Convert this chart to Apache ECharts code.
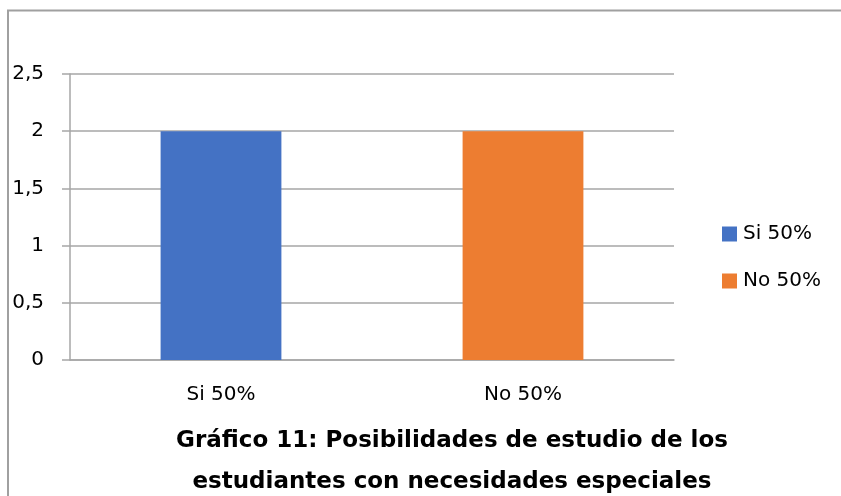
<!DOCTYPE html>
<html>
<head>
<meta charset="utf-8">
<script src="https://cdn.jsdelivr.net/npm/echarts@6/dist/echarts.min.js"></script>
<style>html,body{margin:0;padding:0;background:#fff;}#c{width:841px;height:496px;}</style>
</head>
<body>
<div id="c"></div>
<script>
var categories = ['Si 50%', 'No 50%'];
var seriesNames = ['Si 50%', 'No 50%'];
var siValues = [2, '-'];
var noValues = ['-', 2];
var yTicks = {min: 0, max: 2.5, interval: 0.5};
var titleText = 'Gráfico 11: Posibilidades de estudio de los\nestudiantes con necesidades especiales';

var FONT = 'DejaVu Sans';
var chart = echarts.init(document.getElementById('c'), null, {renderer: 'canvas'});
chart.setOption({
  animation: false,
  textStyle: {fontFamily: FONT},
  color: ['#4472c4', '#ed7d31'],
  graphic: [{
    type: 'polyline',
    shape: {points: [[8, 520], [8, 10.5], [860, 10.5]]},
    style: {fill: null, stroke: '#a0a0a0', lineWidth: 2},
    silent: true
  }],
  title: {
    text: titleText,
    left: 447, top: 416,
    textAlign: 'center',
    textStyle: {fontFamily: FONT, fontWeight: 'bold', fontSize: 23, color: '#000', lineHeight: 41}
  },
  legend: {
    orient: 'vertical',
    left: 717, top: 219,
    itemWidth: 15, itemHeight: 15, itemGap: 27,
    icon: 'rect',
    textStyle: {fontFamily: FONT, fontSize: 20, color: '#000', padding: [0, 0, 0, 1]},
    data: seriesNames
  },
  grid: {left: 70, right: 167, top: 74, bottom: 136, containLabel: false},
  xAxis: {
    type: 'category',
    data: categories,
    axisLine: {show: true, lineStyle: {color: '#a6a6a6', width: 1.5}},
    axisTick: {show: false},
    axisLabel: {fontFamily: FONT, fontSize: 20, color: '#000', margin: 25}
  },
  yAxis: {
    type: 'value',
    min: yTicks.min, max: yTicks.max, interval: yTicks.interval,
    axisLine: {show: true, lineStyle: {color: '#a6a6a6', width: 1.5}},
    axisTick: {show: true, length: 8, lineStyle: {color: '#a6a6a6', width: 1.5}},
    splitLine: {show: true, lineStyle: {color: '#a6a6a6', width: 1.5}},
    axisLabel: {
      fontFamily: FONT, fontSize: 20, color: '#000', margin: 26,
      formatter: function (v) { return String(v).replace('.', ','); }
    }
  },
  series: [
    {name: seriesNames[0], type: 'bar', data: siValues, barWidth: '40%', barGap: '-100%'},
    {name: seriesNames[1], type: 'bar', data: noValues, barWidth: '40%', barGap: '-100%'}
  ]
});
</script>
</body>
</html>
